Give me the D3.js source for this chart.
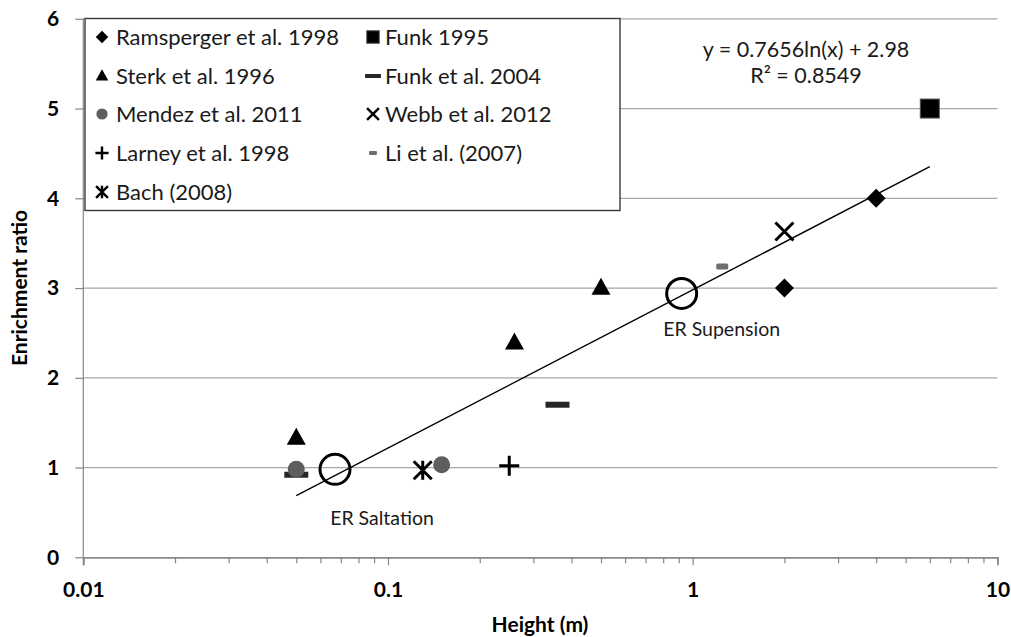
<!DOCTYPE html>
<html>
<head>
<meta charset="utf-8">
<script src="https://cdn.jsdelivr.net/npm/d3@7"></script>
<style>
  html, body { margin: 0; padding: 0; background: #fff; }
  svg { display: block; font-family: Lato, "Open Sans", sans-serif; }
</style>
</head>
<body>
<svg id="chart" width="1011" height="637"></svg>
<script>
// ---------------- data ----------------
const seriesNames = [
  "Ramsperger et al. 1998", "Funk 1995", "Sterk et al. 1996", "Funk et al. 2004",
  "Mendez et al. 2011", "Webb et al. 2012", "Larney et al. 1998", "Li et al. (2007)", "Bach (2008)"
];
const seriesSymbols = ["diamond", "square", "triangle", "dash", "circle", "cross", "plus", "smalldash", "asterisk"];
const ramspergerX = [2, 4],          ramspergerY = [3.0, 4.0];
const funk1995X   = [6],             funk1995Y   = [5.0];
const sterkX      = [0.05, 0.26, 0.5], sterkY    = [1.33, 2.39, 3.0];
const funk2004X   = [0.05, 0.36],    funk2004Y   = [0.92, 1.70];
const mendezX     = [0.05, 0.15],    mendezY     = [0.98, 1.03];
const webbX       = [2],             webbY       = [3.63];
const larneyX     = [0.25],          larneyY     = [1.02];
const liX         = [1.25],          liY         = [3.24];
const bachX       = [0.13],          bachY       = [0.97];
const seriesX = [ramspergerX, funk1995X, sterkX, funk2004X, mendezX, webbX, larneyX, liX, bachX];
const seriesY = [ramspergerY, funk1995Y, sterkY, funk2004Y, mendezY, webbY, larneyY, liY, bachY];

const erLabels = ["ER Saltation", "ER Supension"];
const erX = [0.067, 0.92];
const erY = [0.98, 2.94];

// logarithmic trend line  y = a ln(x) + b, drawn over the data range
const trendA = 0.7656, trendB = 2.98;
const trendRange = [0.05, 6];
const equationLines = ["y = 0.7656ln(x) + 2.98", "R² = 0.8549"];

const xTickValues = [0.01, 0.1, 1, 10];
const xTickLabels = ["0.01", "0.1", "1", "10"];
const yTickValues = [0, 1, 2, 3, 4, 5, 6];
const xTitle = "Height (m)";
const yTitle = "Enrichment ratio";

// ---------------- layout ----------------
const svg = d3.select("#chart");
const x = d3.scaleLog().domain([0.01, 10]).range([83.3, 997.4]);
const y = d3.scaleLinear().domain([0, 6]).range([557.3, 18.8]);
const axisColor = "#868686";
const gridColor = "#a6a6a6";
const tickFont = 21;

// gridlines
svg.append("g").selectAll("line").data(yTickValues.filter(v => v > 0)).join("line")
  .attr("x1", x.range()[0]).attr("x2", x.range()[1])
  .attr("y1", d => y(d)).attr("y2", d => y(d))
  .attr("stroke", gridColor).attr("stroke-width", 1.2);

// x axis: minor ticks
const minorTicks = x.ticks().filter(v => !xTickValues.includes(v));
const xMinor = svg.append("g").attr("transform", `translate(0,${y(0)})`)
  .call(d3.axisBottom(x).tickValues(minorTicks).tickSize(6).tickFormat(""));
// x axis: major ticks with labels
const xMajor = svg.append("g").attr("transform", `translate(0,${y(0)})`)
  .call(d3.axisBottom(x).tickValues(xTickValues).tickSize(8).tickPadding(17)
    .tickFormat((d, i) => xTickLabels[i]));
[xMinor, xMajor].forEach(g => {
  g.select(".domain").attr("stroke", axisColor).attr("stroke-width", 1.2);
  g.selectAll(".tick line").attr("stroke", axisColor).attr("stroke-width", 1.2);
});
xMajor.selectAll(".tick text").attr("font-size", tickFont).attr("font-weight", "bold")
  .attr("fill", "#000").attr("font-family", "Lato, sans-serif");

// y axis
const yAxis = svg.append("g").attr("transform", `translate(${x.range()[0]},0)`)
  .call(d3.axisLeft(y).tickValues(yTickValues).tickSize(8).tickPadding(16).tickFormat(d3.format("d")));
yAxis.select(".domain").attr("stroke", axisColor).attr("stroke-width", 1.2)
  .attr("d", `M0,${y(6)}V${y(0) + 8}`);
yAxis.selectAll(".tick line").attr("stroke", axisColor).attr("stroke-width", 1.2);
yAxis.selectAll(".tick text").attr("font-size", tickFont).attr("font-weight", "bold")
  .attr("fill", "#000").attr("font-family", "Lato, sans-serif");

// axis titles
svg.append("text").attr("x", 540).attr("y", 632).attr("text-anchor", "middle")
  .attr("font-size", 21).attr("font-weight", "bold").text(xTitle);
svg.append("text").attr("transform", "translate(27,288) rotate(-90)").attr("text-anchor", "middle")
  .attr("font-size", 21).attr("font-weight", "bold").text(yTitle);

// ---------------- markers ----------------
function drawSymbol(g, type, cx, cy, s) {
  switch (type) {
    case "diamond": {
      const r = 9.5 * s;
      g.append("path").attr("d", `M${cx},${cy - r}L${cx + r},${cy}L${cx},${cy + r}L${cx - r},${cy}Z`).attr("fill", "#000");
      break; }
    case "square": {
      const a = 19 * s;
      g.append("rect").attr("x", cx - a / 2).attr("y", cy - a / 2).attr("width", a).attr("height", a)
        .attr("fill", "#000").attr("stroke", "#555").attr("stroke-width", 1);
      break; }
    case "triangle": {
      const w = 19 * s, h = 17 * s;
      g.append("path").attr("d", `M${cx},${cy - h * 0.6}L${cx + w / 2},${cy + h * 0.4}L${cx - w / 2},${cy + h * 0.4}Z`).attr("fill", "#000");
      break; }
    case "circle":
      g.append("circle").attr("cx", cx).attr("cy", cy).attr("r", 8.5 * s).attr("fill", "#5e5e5e");
      break;
    case "dash": {
      const w = 24 * s, h = 6 * s;
      g.append("rect").attr("x", cx - w / 2).attr("y", cy - h / 2).attr("width", w).attr("height", h).attr("fill", "#262626");
      break; }
    case "smalldash": {
      const w = 12 * s, h = 6 * s;
      g.append("rect").attr("x", cx - w / 2).attr("y", cy - h / 2).attr("width", w).attr("height", h)
        .attr("rx", 1.5 * s).attr("fill", "#6e6e6e");
      break; }
    case "cross": {
      const r = 9 * s;
      g.append("path").attr("d", `M${cx - r},${cy - r}L${cx + r},${cy + r}M${cx + r},${cy - r}L${cx - r},${cy + r}`)
        .attr("stroke", "#000").attr("stroke-width", 3 * Math.max(s, 0.8)).attr("fill", "none");
      break; }
    case "plus": {
      const r = 10 * s;
      g.append("path").attr("d", `M${cx - r},${cy}L${cx + r},${cy}M${cx},${cy - r}L${cx},${cy + r}`)
        .attr("stroke", "#000").attr("stroke-width", 3 * Math.max(s, 0.8)).attr("fill", "none");
      break; }
    case "asterisk": {
      const r = 9 * s;
      g.append("path").attr("d", `M${cx - r},${cy - r}L${cx + r},${cy + r}M${cx + r},${cy - r}L${cx - r},${cy + r}M${cx},${cy - r * 1.05}L${cx},${cy + r * 1.05}`)
        .attr("stroke", "#000").attr("stroke-width", 3 * Math.max(s, 0.8)).attr("fill", "none");
      break; }
  }
}

const marks = svg.append("g");
seriesNames.forEach((name, i) => {
  const g = marks.append("g").attr("class", "series");
  seriesX[i].forEach((xv, j) => drawSymbol(g, seriesSymbols[i], x(xv), y(seriesY[i][j]), 1));
});

// ER open circles
const erG = svg.append("g");
erG.selectAll("circle").data(erX).join("circle")
  .attr("cx", d => x(d)).attr("cy", (d, i) => y(erY[i])).attr("r", 15)
  .attr("fill", "none").attr("stroke", "#000").attr("stroke-width", 3);
erG.selectAll("text").data(erLabels).join("text")
  .attr("x", (d, i) => x(erX[i]) + (i === 0 ? 47 : 40))
  .attr("y", (d, i) => y(erY[i]) + (i === 0 ? 49 : 36))
  .attr("dy", "0.35em")
  .attr("text-anchor", "middle").attr("font-size", 19.5).attr("fill", "#1a1a1a").text(d => d);

// trend line
const trendLine = d3.line().x(d => x(d)).y(d => y(trendA * Math.log(d) + trendB));
svg.append("path").datum(trendRange).attr("d", trendLine)
  .attr("stroke", "#000").attr("stroke-width", 1.4).attr("fill", "none");

// equation
svg.append("text").attr("x", 806).attr("y", 49).attr("text-anchor", "middle")
  .attr("font-size", 21.5).attr("fill", "#1a1a1a")
  .selectAll("tspan").data(equationLines).join("tspan")
  .attr("x", 806).attr("dy", (d, i) => i === 0 ? "0.35em" : "1.25em").text(d => d);

// ---------------- legend ----------------
const legend = svg.append("g");
legend.append("rect").attr("x", 85).attr("y", 18.5).attr("width", 535).attr("height", 192)
  .attr("fill", "#fff").attr("stroke", "#3a3a3a").attr("stroke-width", 1.4);
const legRows = [37, 76, 114, 153, 192];
const legMarkerX = [102, 373];
const legTextX = [116, 385];
seriesNames.forEach((name, i) => {
  const col = i % 2, row = Math.floor(i / 2);
  const g = legend.append("g");
  drawSymbol(g, seriesSymbols[i], legMarkerX[col], legRows[row], 0.66);
  g.append("text").attr("x", legTextX[col]).attr("y", legRows[row]).attr("dy", "0.35em")
    .attr("font-size", 22).attr("fill", "#1a1a1a").text(name);
});
</script>
</body>
</html>
